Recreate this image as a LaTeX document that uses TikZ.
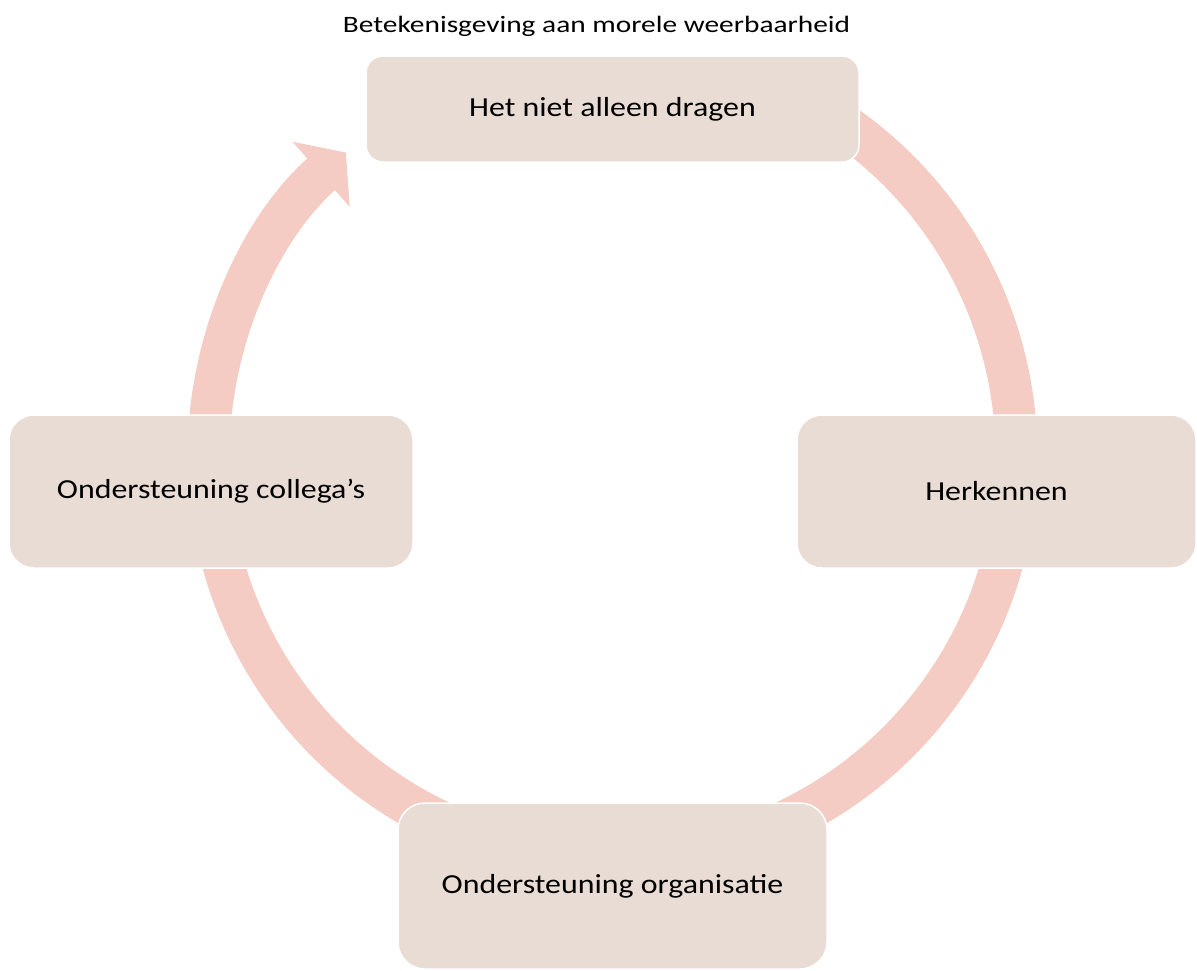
\documentclass[tikz,border=0pt]{standalone}
\usepackage{fontspec}
\setmainfont{Carlito}
\newfontfamily\titelfont{Carlito}[FakeStretch=1.25]
\newfontfamily\boxfont{Carlito}[FakeStretch=1.16]
\usepackage{xcolor}
\usetikzlibrary{arrows.meta}
\definecolor{boxfill}{RGB}{233,220,212}
\definecolor{bandfill}{RGB}{244,204,196}
\tikzset{
  stepbox/.style={draw=white, line width=1.5pt, fill=boxfill, rounded corners=#1,
    font=\boxfont\fontsize{27.5}{33}\selectfont},
  band/.style={draw=bandfill, line width=42pt, -{Triangle[width=85pt,length=33pt]}}
}
\begin{document}
\begin{tikzpicture}[x=1pt, y=1pt]
    \useasboundingbox (0,0) rectangle (1197,-970);
    % cycle band behind the boxes
    \coordinate (hart) at (612.5,-456);
    \coordinate (boogbegin) at ([shift={(57:404)}]hart);
    \draw[band] (boogbegin) arc[start angle=57, end angle=-228.7, radius=404];

    \node[font=\titelfont\fontsize{23.5}{28}\selectfont] (titel) at (596.5,-26) {Betekenisgeving aan morele weerbaarheid};

    \node[stepbox=17pt, minimum width=493pt, minimum height=106pt] (dragen) at (612.5,-109) {Het niet alleen dragen};
    \node[stepbox=25pt, minimum width=399pt, minimum height=153pt] (herkennen) at (996.5,-491.5) {Herkennen};
    \node[stepbox=27pt, minimum width=429pt, minimum height=166pt] (organisatie) at (612.5,-886) {Ondersteuning organisatie};
    \node[stepbox=25pt, minimum width=404pt, minimum height=153pt] (collegas) at (211,-491.5) {Ondersteuning collega’s};
\end{tikzpicture}
\end{document}
